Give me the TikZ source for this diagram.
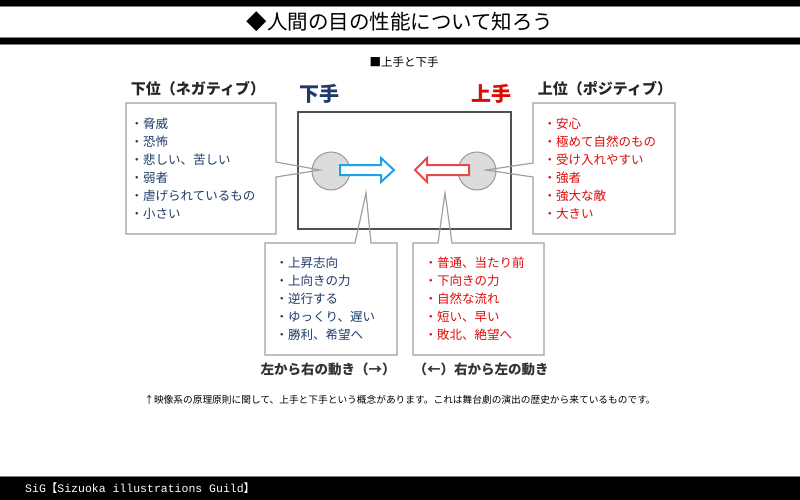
\documentclass[tikz,border=0pt]{standalone}
\usepackage{fontspec}
\setmainfont{Noto Sans CJK JP}
\newfontfamily\footfont{Liberation Mono}
\usetikzlibrary{positioning}
\definecolor{navy}{HTML}{1F3A68}
\definecolor{redtxt}{HTML}{DD0A0A}
\definecolor{arrowblue}{HTML}{1AA3E8}
\definecolor{arrowred}{HTML}{E8474B}
\definecolor{boxgray}{HTML}{A0A0A0}
\definecolor{framegray}{HTML}{505050}
\definecolor{circgray}{HTML}{DCDCDC}
\definecolor{labelgray}{HTML}{333333}

\begin{document}
\begin{tikzpicture}[x=1pt,y=-1pt]
% Define styles
\tikzstyle{item} = [anchor=west, inner sep=0pt, font=\fontsize{12.5}{15}\selectfont]
\tikzstyle{heading} = [inner sep=0pt, font=\fontsize{15}{18}\selectfont\bfseries, text=black!85]
\tikzstyle{side} = [inner sep=0pt, font=\fontsize{20}{24}\selectfont\bfseries]
\tikzstyle{motion} = [inner sep=0pt, font=\fontsize{13.5}{16}\selectfont\bfseries, text=labelgray]
\tikzstyle{callout} = [draw=boxgray, line width=1.2pt, line join=miter]
\tikzstyle{spot} = [circle, draw=black!40, fill=circgray, line width=1pt, minimum size=38pt, inner sep=0pt]
\tikzstyle{blockarrow} = [fill=white, line width=2pt, line join=miter]
\useasboundingbox (0,0) rectangle (800,500);
% Header and footer bars
\draw[fill=black, draw=gray, line width=1pt] (-2,-2) rectangle (802,7);
\draw[fill=black, draw=gray, line width=1pt] (-2,38) rectangle (802,45);
\draw[fill=black, draw=gray, line width=1pt] (-2,476) rectangle (802,502);
\node[font=\fontsize{20.5}{24}\selectfont, inner sep=0pt] (title) at (400,22) {◆人間の目の性能について知ろう};
\node[font=\fontsize{11.5}{14}\selectfont, inner sep=0pt] (subtitle) at (404,62) {■上手と下手};
\node[anchor=west, inner sep=0pt, text=white, font=\fontsize{11.5}{13}\selectfont] (credit) at (25,488)
  {{\footfont SiG}【{\footfont Sizuoka illustrations Guild}】};
% Define headings
\node[heading] (neghead) at (198,89) {下位（ネガティブ）};
\node[heading] (poshead) at (605,89) {上位（ポジティブ）};
\node[side, text=navy] (shimote) at (319,94) {下手};
\node[side, text=redtxt] (kamite) at (491,94) {上手};
\node[motion] (ltor) at (328,369) {左から右の動き（→）};
\node[motion] (rtol) at (481,369) {（←）右から左の動き};
\node[font=\fontsize{9.7}{12}\selectfont, inner sep=0pt] (note) at (400,400)
  {↑映像系の原理原則に関して、上手と下手という概念があります。これは舞台劇の演出の歴史から来ているものです。};
% Stage
\draw[framegray, line width=2pt] (298,112) rectangle (511,229);
\node[spot] (lspot) at (331,171) {};
\node[spot] (rspot) at (477,171) {};
\draw[blockarrow, draw=arrowblue] (340,165) -- (381,165) -- (381,158) -- (394,170)
  -- (381,182) -- (381,175) -- (340,175) -- cycle;
\draw[blockarrow, draw=arrowred] (469,165) -- (427,165) -- (427,158) -- (415,170)
  -- (427,182) -- (427,175) -- (469,175) -- cycle;
% Callout boxes
\coordinate (ltip) at (320,170);
\coordinate (rtip) at (486,170);
\coordinate (bltip) at (366,193);
\coordinate (brtip) at (445,193);
\draw[callout] (126,103) -- (276,103) -- (276,162) -- (ltip) -- (276,177) -- (276,234) -- (126,234) -- cycle;
\draw[callout] (533,103) -- (675,103) -- (675,234) -- (533,234) -- (533,177) -- (rtip) -- (533,163) -- cycle;
\draw[callout] (265,243) -- (355,243) -- (bltip) -- (371,243) -- (397,243) -- (397,355) -- (265,355) -- cycle;
\draw[callout] (413,243) -- (438,243) -- (brtip) -- (452,243) -- (544,243) -- (544,355) -- (413,355) -- cycle;
% Define items
\foreach \t [count=\i] in {脅威,恐怖,悲しい、苦しい,弱者,虐げられているもの,小さい}
  \node[item, text=navy] (neg\i) at (130.5,106+18*\i) {・\t};
\foreach \t [count=\i] in {安心,極めて自然のもの,受け入れやすい,強者,強大な敵,大きい}
  \node[item, text=redtxt] (pos\i) at (543.5,106+18*\i) {・\t};
\foreach \t [count=\i] in {上昇志向,上向きの力,逆行する,ゆっくり、遅い,勝利、希望へ}
  \node[item, text=navy] (up\i) at (275.5,245+18*\i) {・\t};
\foreach \t [count=\i] in {普通、当たり前,下向きの力,自然な流れ,短い、早い,敗北、絶望へ}
  \node[item, text=redtxt] (down\i) at (424.5,245+18*\i) {・\t};
\end{tikzpicture}
\end{document}
